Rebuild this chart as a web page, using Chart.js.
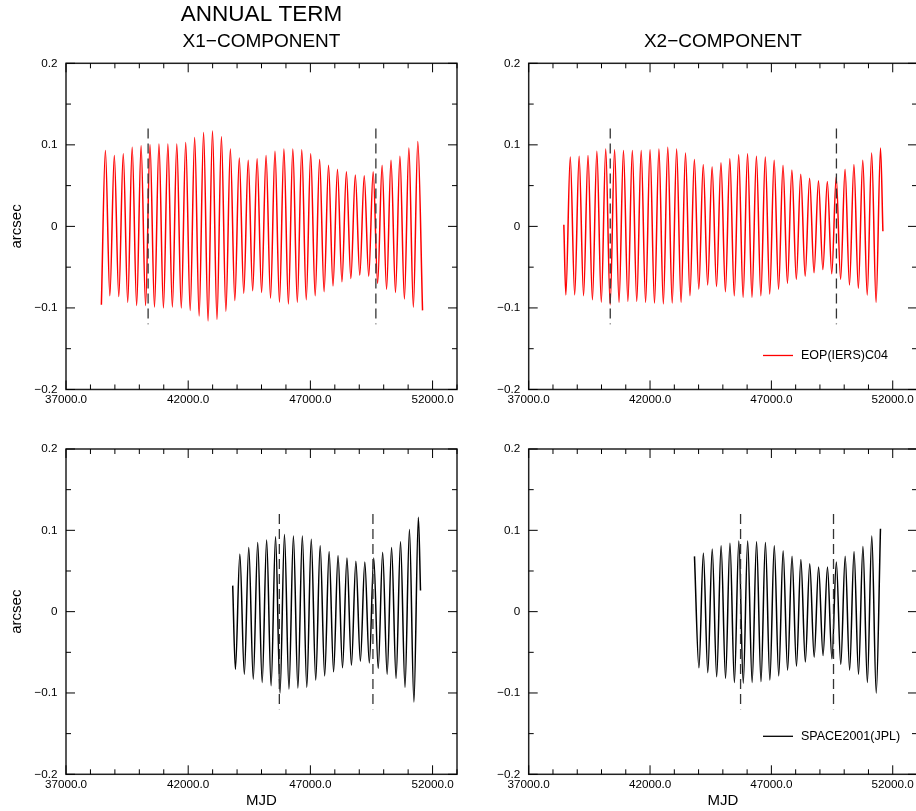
<!DOCTYPE html>
<html>
<head>
<meta charset="utf-8">
<title>Annual term</title>
<script src="https://cdn.jsdelivr.net/npm/chart.js@4.4.0/dist/chart.umd.min.js"></script>
<style>
  html, body { margin: 0; padding: 0; overflow: hidden; background: #fff; }
  body { width: 916px; height: 811px; position: relative; }
  canvas { position: absolute; }
</style>
</head>
<body>
<canvas id="x1-eop"></canvas>
<canvas id="x2-eop"></canvas>
<canvas id="x1-space"></canvas>
<canvas id="x2-space"></canvas>
<script>
// Values: MJD and arcsec of each turning point of the annual term

// X1, EOP(IERS)C04
const x1EopMjd = [
  38448, 38612, 38795, 38977, 39160, 39343, 39526, 39708, 39891, 40073, 40256, 40438, 40621, 40804, 40987,
  41169, 41352, 41534, 41717, 41899, 42082, 42265, 42448, 42630, 42813, 42995, 43178, 43360, 43543, 43726,
  43909, 44091, 44274, 44456, 44639, 44821, 45004, 45187, 45370, 45552, 45735, 45917, 46100, 46282, 46465,
  46648, 46831, 47013, 47196, 47378, 47561, 47743, 47926, 48109, 48292, 48474, 48657, 48839, 49022, 49204,
  49387, 49570, 49753, 49935, 50118, 50300, 50483, 50665, 50848, 51031, 51214, 51396, 51590,
]
const x1EopArcsec = [
  -0.096, 0.093, -0.085, 0.087, -0.086, 0.089, -0.093, 0.097, -0.097, 0.099, -0.097, 0.100, -0.099, 0.101, -0.100,
  0.101, -0.099, 0.101, -0.100, 0.103, -0.103, 0.109, -0.110, 0.115, -0.116, 0.117, -0.114, 0.110, -0.104, 0.095,
  -0.091, 0.084, -0.082, 0.081, -0.079, 0.083, -0.081, 0.087, -0.088, 0.092, -0.093, 0.095, -0.095, 0.095, -0.093,
  0.094, -0.090, 0.089, -0.085, 0.082, -0.080, 0.075, -0.073, 0.070, -0.068, 0.067, -0.064, 0.063, -0.060, 0.062,
  -0.061, 0.067, -0.070, 0.075, -0.077, 0.081, -0.081, 0.086, -0.089, 0.096, -0.099, 0.104, -0.103,
]

// X2, EOP(IERS)C04
const x2EopMjd = [
  38448, 38530, 38713, 38895, 39078, 39261, 39444, 39626, 39809, 39991, 40174, 40356, 40539, 40722, 40905,
  41087, 41270, 41452, 41635, 41817, 42000, 42183, 42366, 42548, 42731, 42913, 43096, 43278, 43461, 43644,
  43827, 44009, 44192, 44374, 44557, 44739, 44922, 45105, 45288, 45470, 45653, 45835, 46018, 46200, 46383,
  46566, 46749, 46931, 47114, 47296, 47479, 47661, 47844, 48027, 48210, 48392, 48575, 48757, 48940, 49122,
  49305, 49488, 49671, 49853, 50036, 50218, 50401, 50583, 50766, 50949, 51132, 51314, 51497, 51595,
]
const x2EopArcsec = [
  0.002, -0.084, 0.085, -0.084, 0.086, -0.085, 0.087, -0.090, 0.092, -0.093, 0.095, -0.096, 0.094, -0.093, 0.093,
  -0.092, 0.093, -0.092, 0.093, -0.093, 0.094, -0.094, 0.095, -0.095, 0.097, -0.094, 0.095, -0.093, 0.090, -0.085,
  0.082, -0.077, 0.076, -0.072, 0.073, -0.074, 0.078, -0.080, 0.083, -0.085, 0.088, -0.087, 0.089, -0.087, 0.086,
  -0.085, 0.085, -0.083, 0.081, -0.077, 0.075, -0.070, 0.069, -0.065, 0.064, -0.061, 0.059, -0.057, 0.056, -0.053,
  0.055, -0.058, 0.061, -0.065, 0.070, -0.072, 0.076, -0.076, 0.081, -0.084, 0.090, -0.093, 0.096, -0.006,
]

// X1, SPACE2001(JPL)
const x1SpaceMjd = [
  43822, 43932, 44114, 44297, 44479, 44663, 44845, 45028, 45210, 45393, 45575, 45758, 45940, 46124, 46306,
  46489, 46671, 46854, 47036, 47219, 47401, 47585, 47767, 47950, 48132, 48315, 48497, 48680, 48862, 49046,
  49228, 49411, 49593, 49776, 49958, 50141, 50323, 50507, 50689, 50872, 51054, 51237, 51419, 51507,
]
const x1SpaceArcsec = [
  0.032, -0.071, 0.071, -0.077, 0.079, -0.083, 0.085, -0.087, 0.088, -0.091, 0.092, -0.100, 0.095, -0.095, 0.093,
  -0.094, 0.093, -0.093, 0.089, -0.084, 0.081, -0.079, 0.074, -0.074, 0.069, -0.069, 0.066, -0.066, 0.062, -0.061,
  0.061, -0.063, 0.066, -0.070, 0.073, -0.077, 0.079, -0.082, 0.086, -0.093, 0.101, -0.111, 0.116, 0.026,
]

// X2, SPACE2001(JPL)
const x2SpaceMjd = [
  43831, 44015, 44197, 44380, 44562, 44746, 44928, 45111, 45293, 45476, 45658, 45841, 46023, 46207, 46389,
  46572, 46754, 46937, 47119, 47302, 47484, 47668, 47850, 48033, 48215, 48398, 48580, 48763, 48945, 49129,
  49311, 49494, 49676, 49859, 50041, 50224, 50406, 50590, 50772, 50955, 51137, 51320, 51495,
]
const x2SpaceArcsec = [
  0.068, -0.069, 0.072, -0.075, 0.077, -0.080, 0.081, -0.082, 0.084, -0.087, 0.087, -0.088, 0.087, -0.087, 0.086,
  -0.086, 0.085, -0.084, 0.081, -0.079, 0.075, -0.072, 0.068, -0.067, 0.064, -0.062, 0.059, -0.056, 0.055, -0.054,
  0.055, -0.058, 0.061, -0.065, 0.068, -0.072, 0.074, -0.077, 0.080, -0.087, 0.093, -0.100, 0.102,
]

// dashed interval markers
const eopMarkerMjd = [40360, 49680]
const spaceMarkerMjd = [45730, 49560]
const markerSpan = [-0.12, 0.12]

// axes
const mjdRange = [37000, 53000]
const arcsecRange = [-0.2, 0.2]
const xLabeledTicks = [37000, 42000, 47000, 52000]
const xTickLabels = ["37000.0", "42000.0", "47000.0", "52000.0"]
const yLabeledTicks = [-0.2, -0.1, 0, 0.1, 0.2]
const yTickLabels = ["\u22120.2", "\u22120.1", "0", "0.1", "0.2"]

const FONT = "\"Liberation Sans\", Arial, Helvetica, sans-serif"
Chart.defaults.font.family = FONT

// page layout of the four panels: canvas box and plot area, in page pixels
const panels = [
  {
    id: "x1-eop", box: [0, 0, 460, 405], area: [66, 63.3, 457, 389.5],
    mjd: x1EopMjd, arcsec: x1EopArcsec, markers: eopMarkerMjd, color: "#ff0000", label: "EOP(IERS)C04",
    heading: "ANNUAL TERM", title: "X1\u2212COMPONENT", yTitle: "arcsec",
  },
  {
    id: "x2-eop", box: [460, 0, 460, 405], area: [528.7, 63.3, 918.7, 389.5],
    mjd: x2EopMjd, arcsec: x2EopArcsec, markers: eopMarkerMjd, color: "#ff0000", label: "EOP(IERS)C04",
    title: "X2\u2212COMPONENT", legendRaise: 34,
  },
  {
    id: "x1-space", box: [0, 405, 460, 406], area: [66, 449, 457, 774.3],
    mjd: x1SpaceMjd, arcsec: x1SpaceArcsec, markers: spaceMarkerMjd, color: "#000000", label: "SPACE2001(JPL)",
    yTitle: "arcsec", xTitle: "MJD",
  },
  {
    id: "x2-space", box: [460, 405, 460, 406], area: [528.7, 449, 918.7, 774.3],
    mjd: x2SpaceMjd, arcsec: x2SpaceArcsec, markers: spaceMarkerMjd, color: "#000000", label: "SPACE2001(JPL)",
    xTitle: "MJD", legendRaise: 38,
  },
]

function near(a, b) {
  return Math.abs(a - b) < 1e-9
}

function labelFor(value, ticks, labels) {
  const i = ticks.findIndex((t) => near(t, value))
  return i < 0 ? "" : labels[i]
}

// frame, inward ticks on all sides, titles and the small legend
const panelDecor = {
  id: "panelDecor",
  afterDraw(chart, args, opts) {
    const { ctx, chartArea: a, scales } = chart
    const cx = (a.left + a.right) / 2
    ctx.save()

    ctx.strokeStyle = "#222"
    ctx.lineWidth = 1.5
    ctx.strokeRect(a.left, a.top, a.right - a.left, a.bottom - a.top)

    ctx.strokeStyle = "#000"
    ctx.lineWidth = 1
    ctx.beginPath()
    scales.x.ticks.forEach((t) => {
      const px = scales.x.getPixelForValue(t.value)
      const len = labelFor(t.value, xLabeledTicks, xTickLabels) ? 9 : 5
      ctx.moveTo(px, a.bottom)
      ctx.lineTo(px, a.bottom - len)
      ctx.moveTo(px, a.top)
      ctx.lineTo(px, a.top + len)
    })
    scales.y.ticks.forEach((t) => {
      const py = scales.y.getPixelForValue(t.value)
      const len = labelFor(t.value, yLabeledTicks, yTickLabels) ? 9 : 5
      ctx.moveTo(a.left, py)
      ctx.lineTo(a.left + len, py)
      ctx.moveTo(a.right, py)
      ctx.lineTo(a.right - len, py)
    })
    ctx.stroke()

    ctx.fillStyle = "#000"
    ctx.textAlign = "center"
    ctx.textBaseline = "middle"
    if (opts.heading) {
      ctx.font = "22.5px " + FONT
      ctx.fillText(opts.heading, cx, a.top - 49)
    }
    if (opts.title) {
      ctx.font = "19px " + FONT
      ctx.fillText(opts.title, cx, a.top - 22)
    }
    if (opts.xTitle) {
      ctx.font = "15px " + FONT
      ctx.fillText(opts.xTitle, cx, a.bottom + 27)
    }
    if (opts.yTitle) {
      ctx.save()
      ctx.font = "15px " + FONT
      ctx.textBaseline = "alphabetic"
      ctx.translate(a.left - 45.5, (a.top + a.bottom) / 2)
      ctx.rotate(-Math.PI / 2)
      ctx.fillText(opts.yTitle, 0, 0)
      ctx.restore()
    }
    if (opts.legendRaise) {
      const ly = a.bottom - opts.legendRaise
      ctx.strokeStyle = opts.color
      ctx.lineWidth = 1.3
      ctx.beginPath()
      ctx.moveTo(a.right - 154, ly)
      ctx.lineTo(a.right - 124, ly)
      ctx.stroke()
      ctx.font = "12.5px " + FONT
      ctx.textAlign = "left"
      ctx.fillText(opts.label, a.right - 116, ly)
    }
    ctx.restore()
  },
}

function buildPanel(p) {
  const [bx, by, bw, bh] = p.box
  const [left, top, right, bottom] = p.area
  const canvas = document.getElementById(p.id)
  canvas.width = bw
  canvas.height = bh
  canvas.style.left = bx + "px"
  canvas.style.top = by + "px"
  canvas.style.width = bw + "px"
  canvas.style.height = bh + "px"

  const yAxisWidth = left - bx
  const xAxisHeight = by + bh - bottom

  const markerSets = p.markers.map((m) => ({
    data: [{ x: m, y: markerSpan[1] }, { x: m, y: markerSpan[0] }],
    borderColor: "#333",
    borderWidth: 1.3,
    borderDash: [10, 5],
    pointRadius: 0,
    order: 0,
  }))

  const series = {
    label: p.label,
    data: p.mjd.map((m, i) => ({ x: m, y: p.arcsec[i] })),
    borderColor: p.color,
    borderWidth: 1.5,
    pointRadius: 0,
    cubicInterpolationMode: "monotone",
    order: 1,
  }

  return new Chart(canvas, {
    type: "line",
    data: { datasets: [...markerSets, series] },
    options: {
      responsive: false,
      animation: false,
      devicePixelRatio: 1,
      layout: { padding: { left: 0, top: top - by, right: bx + bw - right, bottom: 0 } },
      plugins: {
        legend: { display: false },
        tooltip: { enabled: false },
        panelDecor: {
          heading: p.heading,
          title: p.title,
          xTitle: p.xTitle,
          yTitle: p.yTitle,
          legendRaise: p.legendRaise,
          label: p.label,
          color: p.color,
        },
      },
      scales: {
        x: {
          type: "linear",
          min: mjdRange[0],
          max: mjdRange[1],
          grid: { display: false, drawTicks: false },
          border: { display: false },
          afterFit: (s) => { s.height = xAxisHeight },
          ticks: {
            stepSize: 1000,
            autoSkip: false,
            maxRotation: 0,
            padding: 3,
            color: "#000",
            font: { size: 11.7 },
            callback: (v) => labelFor(v, xLabeledTicks, xTickLabels),
          },
        },
        y: {
          type: "linear",
          min: arcsecRange[0],
          max: arcsecRange[1],
          grid: { display: false, drawTicks: false },
          border: { display: false },
          afterFit: (s) => { s.width = yAxisWidth },
          ticks: {
            stepSize: 0.05,
            autoSkip: false,
            padding: 8.5,
            color: "#000",
            font: { size: 11.7 },
            callback: (v) => labelFor(v, yLabeledTicks, yTickLabels),
          },
        },
      },
    },
    plugins: [panelDecor],
  })
}

panels.forEach(buildPanel)
</script>
</body>
</html>
